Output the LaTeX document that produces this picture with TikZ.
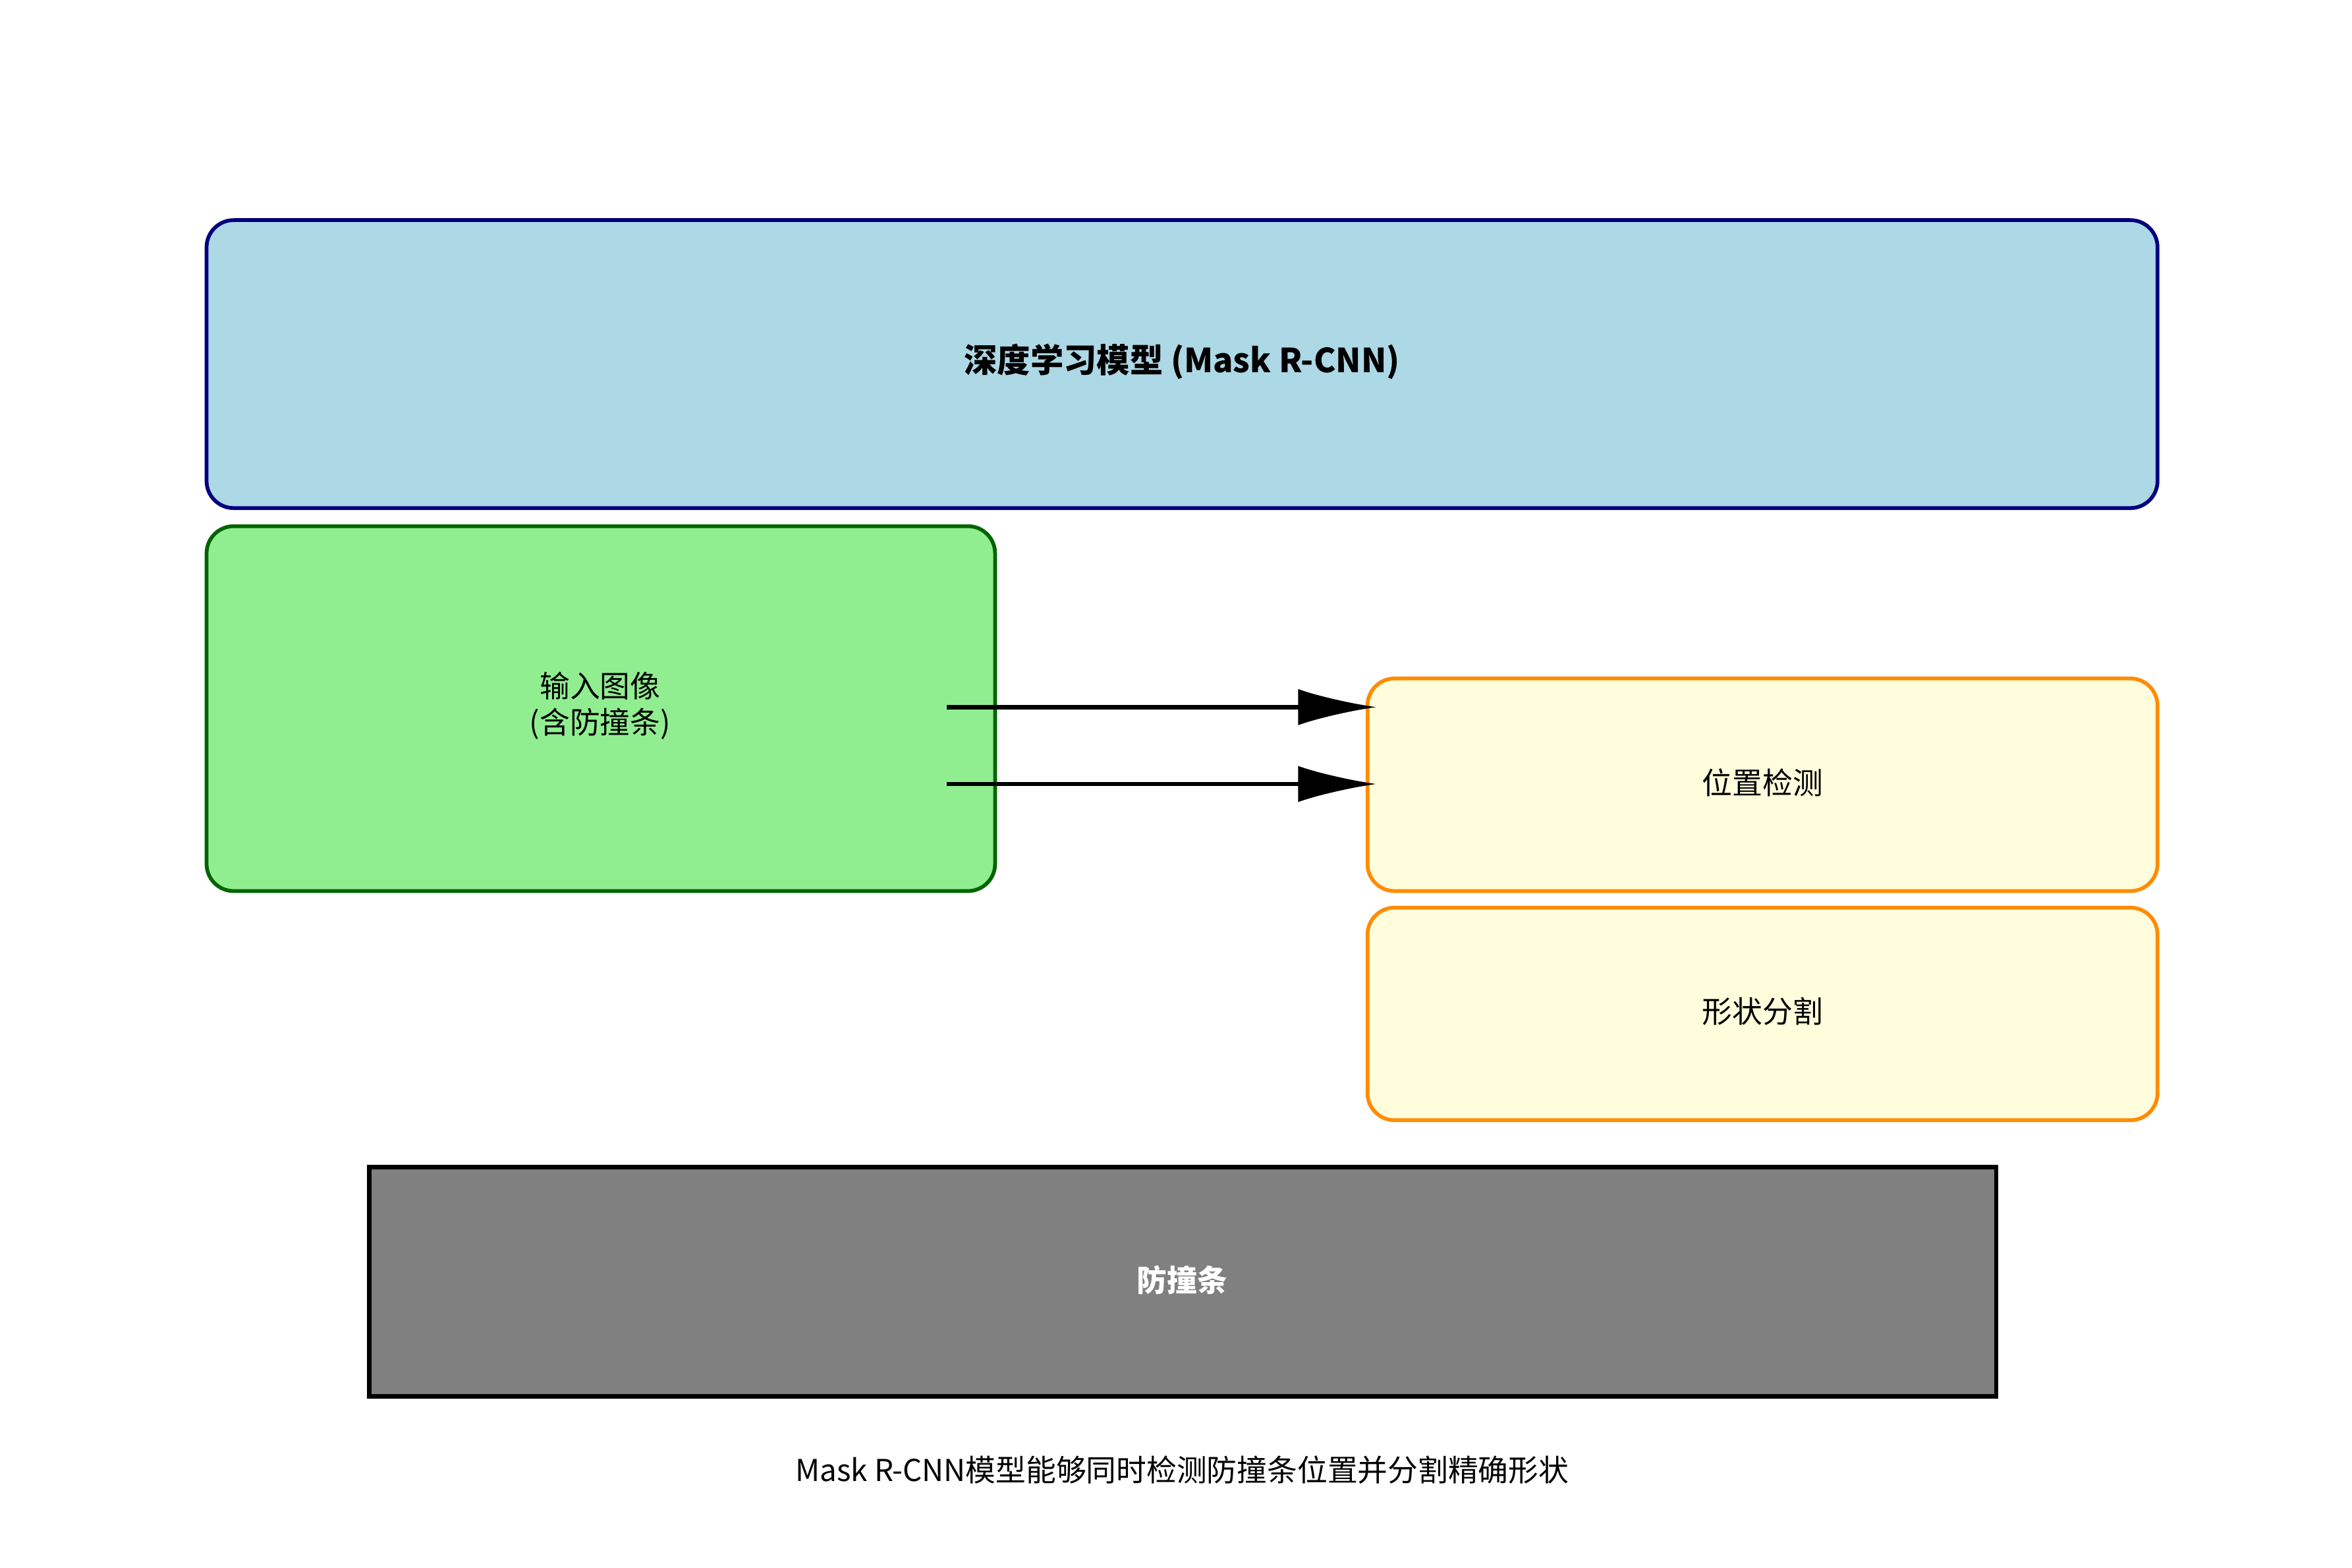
\documentclass[tikz,border=0pt]{standalone}
\usepackage{fontspec}
\setmainfont{Noto Sans CJK SC}
\usetikzlibrary{arrows.meta}
\begin{document}
\begin{tikzpicture}[x=1pt,y=-1pt,
 box/.style={draw,line width=2.5pt,rounded corners=18pt,inner sep=0pt},
 lab/.style={font=\fontsize{20}{24}\selectfont,align=center},
 arr/.style={line width=3pt,-{Latex[length=52pt,width=24pt]}}]
\useasboundingbox (0,0) rectangle (1560,1040);
\draw[box,draw={rgb,255:red,0;green,0;blue,128},fill={rgb,255:red,173;green,216;blue,230}] (137,146) rectangle (1431,337);
\node[lab,font=\fontsize{22}{26}\selectfont\bfseries] (m) at (784,240) {深度学习模型 (Mask R-CNN)};
\draw[box,draw={rgb,255:red,0;green,100;blue,0},fill={rgb,255:red,144;green,238;blue,144}] (137,349) rectangle (660,591);
\node[lab] (in) at (398,468) {输入图像\\(含防撞条)};
\draw[box,draw={rgb,255:red,255;green,140;blue,0},fill={rgb,255:red,255;green,253;blue,220}] (907,450) rectangle (1431,591);
\node[lab] (pos) at (1169,519) {位置检测};
\draw[box,draw={rgb,255:red,255;green,140;blue,0},fill={rgb,255:red,255;green,253;blue,220}] (907,602) rectangle (1431,743);
\node[lab] (seg) at (1169,671) {形状分割};
\draw[line width=3pt,fill={rgb,255:red,128;green,128;blue,128}] (245,774) rectangle (1324,926);
\node[lab,text=white,font=\fontsize{20}{24}\selectfont\bfseries] (bar) at (784,849) {防撞条};
\coordinate (a1) at (628,469); \coordinate (b1) at (913,469);
\coordinate (a2) at (628,520); \coordinate (b2) at (913,520);
\draw[arr] (a1) -- (b1);
\draw[arr] (a2) -- (b2);
\node[lab] (cap) at (784,975) {Mask R-CNN模型能够同时检测防撞条位置并分割精确形状};
\end{tikzpicture}
\end{document}
